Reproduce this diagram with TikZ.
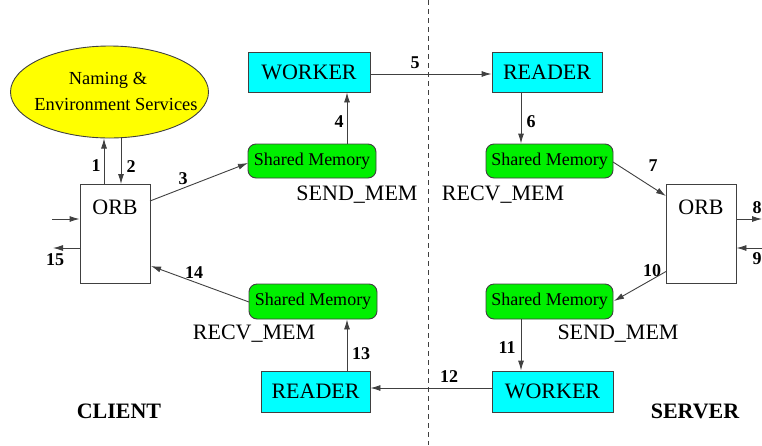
\documentclass[tikz,border=0pt]{standalone}
\usepackage{fontspec}
\setmainfont{Liberation Serif}
\usetikzlibrary{arrows.meta,shapes.geometric,calc}
\definecolor{mycyan}{RGB}{0,255,255}
\definecolor{mygreen}{RGB}{0,240,0}
\definecolor{myyellow}{RGB}{255,255,0}
\definecolor{lc}{gray}{0.25}
\begin{document}
\begin{tikzpicture}[x=1pt,y=-1pt,
  bigfont/.style={font=\rmfamily\fontsize{22}{26}\selectfont},
  cbox/.style={draw=lc,line width=0.9pt,fill=mycyan,inner sep=0pt,bigfont},
  shm/.style={draw=lc,line width=0.9pt,fill=mygreen,rounded corners=8pt,inner sep=0pt,minimum height=34pt,font=\rmfamily\fontsize{18}{21}\selectfont},
  orbbox/.style={draw=lc,line width=0.9pt,fill=white,inner sep=0pt,minimum width=70pt,minimum height=99pt},
  memlbl/.style={inner sep=0pt,bigfont},
  num/.style={inner sep=0pt,font=\rmfamily\fontsize{18}{21}\selectfont\bfseries},
  side/.style={inner sep=0pt,font=\rmfamily\fontsize{22}{26}\selectfont\bfseries},
  arr/.style={draw=lc,line width=0.9pt,-{Latex[length=10pt,width=6pt]}}
]
\useasboundingbox (0,0) rectangle (762,445);
% divider
\coordinate (dtop) at (428,0);
\coordinate (dbot) at (428,445);
\draw[lc,line width=0.8pt,dash pattern=on 5pt off 4pt] (dtop) -- (dbot);

% ellipse
\node[ellipse,draw=lc,line width=0.9pt,fill=myyellow,minimum width=198pt,minimum height=92pt,inner sep=0pt] (ns) at (109.5,92) {};
\node[inner sep=0pt,font=\rmfamily\fontsize{18.4}{22}\selectfont] (nst1) at (108,80) {Naming \&};
\node[inner sep=0pt,font=\rmfamily\fontsize{18.4}{22}\selectfont] (nst2) at (116,104) {Environment Services};

% ORBs
\node[orbbox] (orbC) at (115,233.5) {};
\node[inner sep=0pt,bigfont] (orbCt) at (115,207) {ORB};
\node[orbbox] (orbS) at (701,233.5) {};
\node[inner sep=0pt,bigfont] (orbSt) at (701,207) {ORB};

% boxes
\node[cbox,minimum width=122pt,minimum height=40pt] (wk1) at (309,72) {WORKER};
\node[cbox,minimum width=110pt,minimum height=40pt] (rd1) at (547,72) {READER};
\node[cbox,minimum width=109pt,minimum height=41pt] (rd2) at (315.5,391.5) {READER};
\node[cbox,minimum width=121pt,minimum height=41pt] (wk2) at (552.5,391.5) {WORKER};

\node[shm,minimum width=128pt] (sm1) at (312,161) {Shared Memory};
\node[shm,minimum width=127pt] (sm2) at (549.5,161) {Shared Memory};
\node[shm,minimum width=128pt,minimum height=35pt] (sm3) at (313,301.5) {Shared Memory};
\node[shm,minimum width=127pt,minimum height=35pt] (sm4) at (549.5,301.5) {Shared Memory};

% memory labels
\node[memlbl] (ml1) at (357,195) {SEND\_MEM};
\node[memlbl] (ml2) at (503,195) {RECV\_MEM};
\node[memlbl] (ml3) at (254,334) {RECV\_MEM};
\node[memlbl] (ml4) at (618,334) {SEND\_MEM};

\node[side] (cl) at (119,411) {CLIENT};
\node[side] (sv) at (695,411) {SERVER};

% connectors
\coordinate (c1a) at (104,184);
\coordinate (c1b) at (104,138.5);
\draw[arr] (c1a) -- (c1b);
\coordinate (c2a) at (121,138);
\coordinate (c2b) at (121,184);
\draw[arr] (c2a) -- (c2b);
\coordinate (c3a) at (150,201);
\coordinate (c3b) at (248,163);
\draw[arr] (c3a) -- (c3b);
\draw[arr] (sm1.north -| 347,0) -- (wk1.south -| 347,0);
\draw[arr] (wk1.east |- 0,74) -- (rd1.west |- 0,74);
\draw[arr] (rd1.south -| 521,0) -- (sm2.north -| 521,0);
\coordinate (c7a) at (613,162);
\coordinate (c7b) at (666,196);
\draw[arr] (c7a) -- (c7b);
\coordinate (c8b) at (762,219);
\draw[arr] (orbS.east |- c8b) -- (c8b);
\coordinate (c9a) at (762,248);
\draw[arr] (c9a) -- (orbS.east |- c9a);
\coordinate (c10a) at (666,271.5);
\coordinate (c10b) at (614,301);
\draw[arr] (c10a) -- (c10b);
\draw[arr] (sm4.south -| 521,0) -- (wk2.north -| 521,0);
\draw[arr] (wk2.west |- 0,388) -- (rd2.east |- 0,388);
\draw[arr] (rd2.north -| 347,0) -- (sm3.south -| 347,0);
\coordinate (c14a) at (249,302);
\coordinate (c14b) at (151,266);
\draw[arr] (c14a) -- (c14b);
\coordinate (cin) at (52,219);
\draw[arr] (cin) -- (orbC.west |- cin);
\coordinate (cout) at (53,248);
\draw[arr] (orbC.west |- cout) -- (cout);

% numbers
\node[num] (n1) at (96,166) {1};
\node[num] (n2) at (131,167) {2};
\node[num] (n3) at (183,179) {3};
\node[num] (n4) at (339,122) {4};
\node[num] (n5) at (415,63) {5};
\node[num] (n6) at (531,122) {6};
\node[num] (n7) at (653,166) {7};
\node[num] (n8) at (757,208) {8};
\node[num] (n9) at (757,259) {9};
\node[num] (n10) at (652,271) {10};
\node[num] (n11) at (507,348) {11};
\node[num] (n12) at (449,377) {12};
\node[num] (n13) at (361,354) {13};
\node[num] (n14) at (194,273) {14};
\node[num] (n15) at (55,260) {15};
\end{tikzpicture}
\end{document}
